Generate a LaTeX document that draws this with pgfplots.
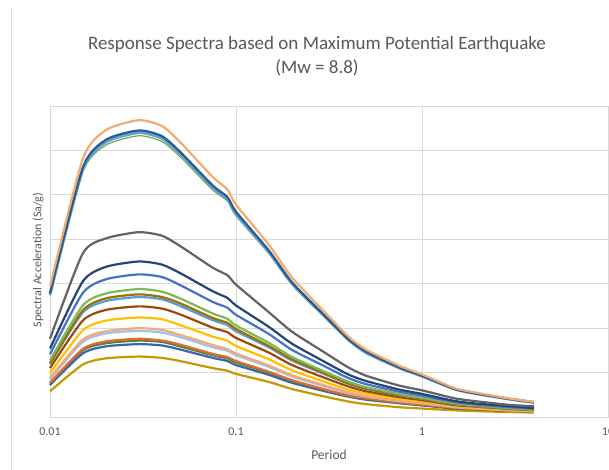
\documentclass[border=0pt]{standalone}
\usepackage{pgfplots}
\usepackage{pgfplotstable}
\pgfplotsset{compat=1.18}
\usepackage{fontspec}
\setmainfont{Carlito}
\definecolor{txt}{HTML}{595959}
\definecolor{gridc}{HTML}{D9D9D9}
\definecolor{c1}{HTML}{F5AB6E}
\definecolor{c2}{HTML}{255E91}
\definecolor{c3}{HTML}{6A9FD3}
\definecolor{c4}{HTML}{70AD47}
\definecolor{c5}{HTML}{636363}
\definecolor{c6}{HTML}{264478}
\definecolor{c7}{HTML}{4472C4}
\definecolor{c8}{HTML}{7DB956}
\definecolor{c9}{HTML}{997300}
\definecolor{c10}{HTML}{5B9BD5}
\definecolor{c11}{HTML}{9E480E}
\definecolor{c12}{HTML}{FFC000}
\definecolor{c13}{HTML}{F4A77A}
\definecolor{c14}{HTML}{9DC3E6}
\definecolor{c15}{HTML}{E06B35}
\definecolor{c16}{HTML}{548235}
\definecolor{c17}{HTML}{3B64AD}
\definecolor{c18}{HTML}{C49A00}
\pgfplotstableread{
T c1 c2 c3 c4 c5 c6 c7 c8 c9 c10 c11 c12 c13 c14 c15 c16 c17 c18
0.01 2.94 2.78 2.76 2.73 1.76 1.54 1.41 1.27 1.21 1.19 1.10 0.99 0.88 0.85 0.77 0.76 0.72 0.58
0.015 5.81 5.61 5.57 5.51 3.68 3.05 2.79 2.51 2.40 2.35 2.17 1.95 1.74 1.69 1.53 1.50 1.43 1.18
0.02 6.46 6.24 6.19 6.12 4.02 3.38 3.10 2.78 2.67 2.61 2.41 2.17 1.93 1.88 1.70 1.66 1.59 1.32
0.03 6.68 6.45 6.40 6.33 4.16 3.50 3.21 2.88 2.76 2.70 2.49 2.24 2.00 1.94 1.76 1.72 1.64 1.36
0.04 6.55 6.32 6.27 6.20 4.08 3.43 3.15 2.82 2.70 2.65 2.44 2.20 1.96 1.90 1.72 1.69 1.61 1.33
0.05 6.19 5.97 5.93 5.86 3.85 3.24 2.97 2.67 2.56 2.50 2.31 2.07 1.85 1.80 1.63 1.59 1.52 1.26
0.075 5.40 5.21 5.17 5.11 3.36 2.83 2.59 2.33 2.23 2.18 2.01 1.81 1.62 1.57 1.42 1.39 1.33 1.10
0.09 5.12 4.95 4.91 4.86 3.19 2.68 2.46 2.21 2.12 2.07 1.91 1.72 1.53 1.49 1.35 1.32 1.26 1.04
0.1 4.78 4.62 4.58 4.53 2.98 2.51 2.30 2.06 1.98 1.93 1.78 1.60 1.43 1.39 1.26 1.23 1.17 0.97
0.15 3.88 3.75 3.72 3.68 2.36 2.03 1.87 1.67 1.60 1.57 1.45 1.30 1.16 1.13 1.02 1.00 0.95 0.79
0.2 3.14 3.03 3.01 2.98 1.92 1.65 1.51 1.35 1.30 1.27 1.17 1.05 0.94 0.91 0.83 0.81 0.77 0.63
0.3 2.36 2.28 2.27 2.24 1.45 1.24 1.14 1.02 0.98 0.96 0.88 0.79 0.71 0.69 0.62 0.61 0.58 0.46
0.4 1.82 1.76 1.75 1.73 1.12 0.96 0.88 0.80 0.76 0.75 0.69 0.62 0.56 0.54 0.49 0.48 0.46 0.35
0.5 1.52 1.47 1.45 1.44 0.93 0.81 0.74 0.67 0.64 0.63 0.58 0.53 0.47 0.46 0.42 0.41 0.39 0.29
0.75 1.16 1.12 1.11 1.10 0.71 0.62 0.57 0.52 0.50 0.49 0.45 0.41 0.37 0.36 0.33 0.32 0.31 0.22
1 0.96 0.93 0.92 0.91 0.60 0.52 0.48 0.43 0.42 0.41 0.38 0.35 0.31 0.31 0.28 0.28 0.26 0.19
1.5 0.65 0.63 0.63 0.62 0.42 0.36 0.34 0.31 0.30 0.29 0.27 0.25 0.23 0.22 0.21 0.20 0.19 0.15
2 0.54 0.52 0.52 0.51 0.35 0.30 0.28 0.26 0.25 0.24 0.23 0.21 0.19 0.19 0.18 0.17 0.17 0.13
3 0.41 0.40 0.40 0.39 0.27 0.24 0.22 0.20 0.20 0.19 0.18 0.17 0.16 0.15 0.14 0.14 0.14 0.11
4 0.34 0.33 0.33 0.32 0.24 0.20 0.19 0.17 0.17 0.16 0.155 0.14 0.13 0.13 0.12 0.12 0.12 0.10
}\data
\begin{document}
\begin{tikzpicture}[x=1pt,y=1pt]
\useasboundingbox (0,0) rectangle (609,470);
\fill[white] (0,0) rectangle (609,470);
\draw[gridc, line width=0.8pt] (11.5,0) -- (11.5,462);
\node[anchor=base, text=txt, font=\fontsize{19}{23}\selectfont] at (317,420) {Response Spectra based on Maximum Potential Earthquake};
\node[anchor=base, text=txt, font=\fontsize{19}{23}\selectfont] at (317,396) {(Mw = 8.8)};
\node[rotate=90, text=txt, font=\fontsize{12}{14}\selectfont] at (38,210) {Spectral Acceleration (Sa/g)};
\node[text=txt, font=\fontsize{13.5}{16}\selectfont] at (329,15) {Period};
\begin{axis}[
  at={(50pt,53pt)}, anchor=south west,
  scale only axis, width=558pt, height=311pt,
  xmode=log, xmin=0.01, xmax=10, ymin=0, ymax=7,
  xtick={0.01,0.1,1,10}, xticklabels={0.01,0.1,1,10},
  xminorticks=false,
  ytick={0,1,2,3,4,5,6,7}, yticklabels={},
  grid=major,
  major grid style={draw=gridc, line width=0.8pt},
  axis line style={draw=gridc, line width=0.8pt},
  tick style={draw=none},
  xticklabel style={text=txt, font=\fontsize{12}{14}\selectfont, yshift=-7pt},
  every axis plot/.append style={line width=2.2pt, line join=round, smooth, tension=0.4, no marks},
  clip=false,
]
\addplot[c18] table[x=T,y=c18]{\data};
\addplot[c17] table[x=T,y=c17]{\data};
\addplot[c16] table[x=T,y=c16]{\data};
\addplot[c15] table[x=T,y=c15]{\data};
\addplot[c14] table[x=T,y=c14]{\data};
\addplot[c13] table[x=T,y=c13]{\data};
\addplot[c12] table[x=T,y=c12]{\data};
\addplot[c11] table[x=T,y=c11]{\data};
\addplot[c10] table[x=T,y=c10]{\data};
\addplot[c9] table[x=T,y=c9]{\data};
\addplot[c8] table[x=T,y=c8]{\data};
\addplot[c7] table[x=T,y=c7]{\data};
\addplot[c6] table[x=T,y=c6]{\data};
\addplot[c5] table[x=T,y=c5]{\data};
\addplot[c4, line width=1.2pt] table[x=T,y=c4]{\data};
\addplot[c3, line width=3pt] table[x=T,y=c3]{\data};
\addplot[c2] table[x=T,y=c2]{\data};
\addplot[c1] table[x=T,y=c1]{\data};
\end{axis}
\end{tikzpicture}
\end{document}
